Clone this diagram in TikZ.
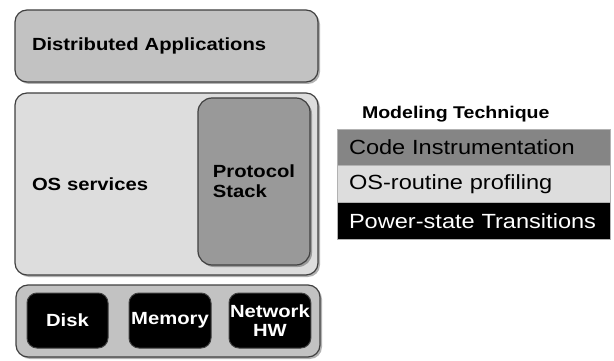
\documentclass[tikz,border=0pt]{standalone}
\usepackage{fontspec}
\setmainfont{Liberation Sans}[FakeStretch=1.15]
\usetikzlibrary{positioning,shadows}
\definecolor{appgray}{HTML}{C2C2C2}
\definecolor{osgray}{HTML}{DDDDDD}
\definecolor{stackgray}{HTML}{999999}
\definecolor{edgegray}{HTML}{404040}
\definecolor{codegray}{HTML}{858585}

\begin{document}
\begin{tikzpicture}[
  x=1pt,
  y=-1pt,
  layer/.style={draw=edgegray,line width=1.2pt,rounded corners=12pt,
    drop shadow={shadow xshift=2pt,shadow yshift=-2pt,fill=black,opacity=0.3},
    font=\fontsize{17.6}{20}\selectfont\bfseries},
  wide/.style={layer,text width=269pt,inner xsep=17pt,align=left},
  hw/.style={draw=edgegray,fill=black,text=white,line width=1pt,rounded corners=10pt,
    minimum height=55pt,align=center,inner xsep=1pt,
    font=\fontsize{17.6}{19}\selectfont\bfseries},
  technique/.style={draw=gray!60,line width=0.4pt,minimum width=273pt,minimum height=36.5pt,
    text width=249pt,inner xsep=12pt,align=left,font=\fontsize{20.5}{22}\selectfont},
  ]
  \useasboundingbox (0,0) rectangle (614,361);
  \node [wide,fill=appgray,minimum height=72pt] (apps) at (166.5,46) {Distributed Applications};
  \node [wide,fill=osgray,minimum height=182pt] (os) at (166.5,184) {OS services};
  \node [layer,fill=stackgray,minimum width=112pt,minimum height=167pt,rounded corners=14pt,align=left]
    (stack) at (254,181.5) {Protocol\\Stack};
  \node [layer,fill=appgray,minimum width=304pt,minimum height=72pt] (hw-layer) at (168,321) {};
  \node [hw,minimum width=81pt] (disk) at (67.5,320.5) {Disk};
  \node [hw,minimum width=82pt,right=20pt of disk] (memory) {Memory};
  \node [hw,minimum width=80pt,right=17pt of memory] (network) {Network\\HW};

  \node [technique,fill=codegray] (code) at (473.5,147) {Code Instrumentation};
  \node [technique,fill=osgray,below=0pt of code] (profiling) {OS-routine profiling};
  \node [technique,fill=black,text=white,below=0pt of profiling] (power) {Power-state Transitions};
  \node [font=\fontsize{17}{18}\selectfont\bfseries,inner xsep=0pt,above right=3pt and 25pt of code.north west]
    (technique-title) {Modeling Technique};
\end{tikzpicture}
\end{document}
